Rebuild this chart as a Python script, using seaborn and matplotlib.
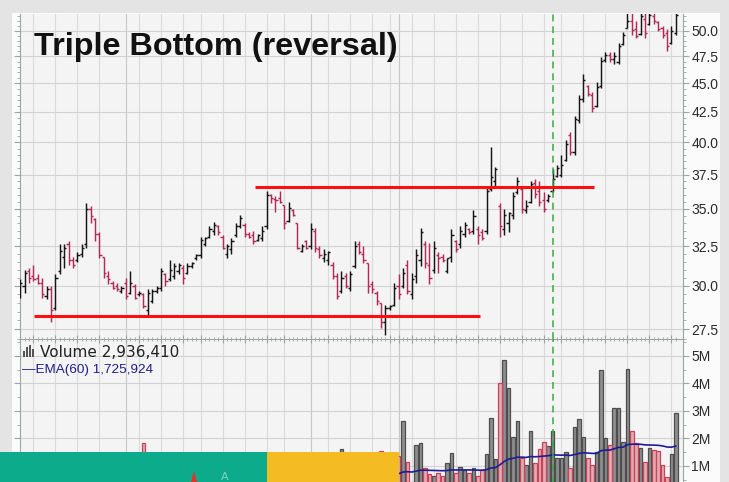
import numpy as np
import pandas as pd
import matplotlib
matplotlib.use("Agg")
import matplotlib.pyplot as plt
from matplotlib.patches import Rectangle, Polygon
from matplotlib.colors import to_rgba
from matplotlib.ticker import FixedLocator, FuncFormatter, NullFormatter
import seaborn as sns

# ---- daily OHLC prices ----
opens = [29.6, 30.0, 30.9, 30.6, 30.5, 30.2, 29.4, 29.8, 28.7, 30.9,
         31.8, 32.6, 31.6, 31.6, 32.0, 32.6, 35.0, 34.3, 33.3, 31.8,
         30.6, 30.2, 30.0, 29.7, 30.2, 29.6, 30.0, 29.5, 29.5, 28.6,
         29.1, 29.7, 29.9, 30.7, 30.4, 30.6, 30.9, 31.1, 30.8, 31.2,
         31.7, 31.9, 32.6, 33.1, 33.5, 33.8, 33.1, 32.0, 32.3, 33.2,
         33.8, 33.9, 33.3, 33.2, 32.9, 33.0, 33.8, 36.0, 35.7, 35.8,
         35.3, 34.2, 34.9, 34.0, 32.2, 32.8, 32.5, 33.5, 32.3, 31.7,
         31.6, 31.3, 30.6, 29.7, 30.6, 29.9, 31.2, 32.6, 32.0, 31.4,
         30.1, 29.6, 29.0, 27.9, 28.7, 28.9, 30.0, 30.0, 31.3, 29.5,
         30.6, 31.6, 32.6, 31.3, 31.0, 31.9, 31.8, 30.9, 31.8, 32.8,
         32.6, 33.3, 33.6, 33.5, 33.6, 33.4, 33.5, 36.4, 37.0, 35.2,
         33.6, 34.0, 34.6, 36.2, 36.4, 34.9, 35.5, 36.9, 36.3, 35.6,
         35.6, 36.3, 37.4, 37.5, 38.6, 40.6, 39.2, 41.8, 43.6, 44.8,
         44.0, 43.0, 44.8, 47.2, 47.6, 47.3, 47.0, 48.7, 50.3, 51.0,
         50.2, 49.7, 51.2, 50.7, 51.5, 50.9, 50.3, 49.8, 48.8, 49.8]
highs = [30.4, 31.0, 31.1, 31.3, 30.7, 30.5, 30.0, 30.0, 30.7, 32.6,
         32.6, 32.8, 31.8, 32.1, 32.6, 35.4, 35.2, 34.4, 33.4, 31.8,
         30.9, 30.3, 30.2, 30.0, 30.5, 30.9, 30.1, 29.7, 29.6, 29.8,
         29.8, 30.0, 31.1, 30.8, 31.6, 31.4, 31.4, 31.3, 31.4, 31.5,
         32.0, 33.1, 33.1, 33.8, 34.1, 33.9, 33.2, 32.6, 33.0, 34.0,
         34.6, 34.0, 33.4, 33.5, 33.3, 33.8, 36.3, 36.1, 35.9, 36.3,
         35.3, 35.5, 35.0, 34.0, 32.6, 32.9, 34.0, 33.7, 32.5, 32.3,
         32.2, 31.5, 30.8, 30.9, 30.8, 30.9, 32.8, 32.8, 32.5, 31.4,
         30.3, 29.7, 29.0, 28.9, 28.9, 30.2, 30.7, 31.1, 31.6, 30.8,
         32.3, 33.7, 32.8, 32.7, 32.8, 32.1, 32.0, 31.7, 33.6, 32.9,
         33.8, 34.1, 33.7, 34.9, 33.8, 33.6, 36.5, 39.6, 38.1, 35.4,
         35.0, 34.8, 36.2, 37.3, 36.6, 35.6, 37.0, 37.2, 37.0, 36.2,
         36.1, 37.9, 38.2, 39.0, 40.2, 40.8, 42.2, 44.0, 45.9, 44.9,
         44.2, 45.1, 47.4, 47.9, 47.9, 47.9, 48.8, 49.9, 52.5, 52.0,
         51.0, 52.2, 51.8, 52.3, 52.0, 51.0, 50.5, 50.2, 50.5, 52.5]
lows = [29.3, 29.6, 30.2, 30.3, 30.1, 29.3, 29.2, 27.9, 28.6, 30.7,
        31.1, 31.3, 31.1, 31.5, 31.8, 32.4, 34.0, 32.8, 31.7, 30.5,
        30.1, 29.8, 29.7, 29.6, 29.2, 29.5, 29.2, 29.4, 28.7, 28.3,
        29.0, 29.6, 29.7, 30.0, 30.3, 30.4, 30.7, 30.1, 30.7, 31.1,
        31.6, 31.7, 32.5, 33.0, 33.2, 33.2, 32.3, 31.7, 32.0, 33.1,
        33.7, 33.1, 33.0, 32.6, 32.8, 32.8, 33.6, 35.4, 34.8, 35.4,
        33.6, 34.1, 34.5, 32.3, 32.1, 32.3, 32.3, 32.1, 31.7, 31.5,
        31.3, 30.4, 29.2, 29.6, 29.9, 29.7, 31.1, 32.0, 31.4, 29.6,
        29.6, 28.9, 27.6, 27.2, 28.6, 28.8, 29.2, 29.9, 29.5, 29.2,
        30.2, 31.2, 31.1, 30.1, 30.8, 30.8, 31.5, 30.8, 31.5, 32.1,
        32.4, 33.1, 33.3, 33.3, 32.6, 32.9, 33.3, 36.3, 36.6, 33.1,
        33.2, 33.4, 34.3, 36.1, 34.7, 34.7, 35.4, 35.8, 35.2, 34.8,
        35.5, 36.2, 37.3, 37.3, 38.5, 39.0, 39.0, 41.6, 43.4, 43.9,
        42.5, 42.9, 44.6, 47.0, 47.0, 46.8, 46.8, 48.6, 50.3, 49.6,
        49.3, 49.6, 49.3, 50.6, 50.7, 50.0, 49.3, 48.0, 48.7, 49.6]
closes = [30.2, 30.8, 30.5, 30.4, 30.2, 29.5, 29.8, 28.6, 30.5, 32.2,
          32.4, 31.6, 31.3, 31.9, 32.4, 35.0, 34.5, 33.3, 31.9, 30.8,
          30.4, 29.9, 29.8, 29.9, 29.4, 30.2, 29.3, 29.6, 28.8, 29.6,
          29.7, 29.9, 30.9, 30.3, 31.0, 31.2, 31.3, 30.5, 31.2, 31.4,
          31.9, 32.9, 33.0, 33.6, 33.9, 33.4, 32.4, 32.5, 32.8, 33.8,
          34.4, 33.3, 33.1, 32.8, 33.2, 33.5, 36.0, 35.8, 35.6, 35.5,
          34.0, 35.1, 34.6, 32.4, 32.5, 32.4, 33.6, 32.4, 31.9, 32.0,
          32.1, 30.6, 29.4, 30.5, 30.0, 30.7, 32.5, 32.1, 31.6, 30.0,
          29.8, 29.1, 27.9, 28.7, 28.85, 29.9, 29.5, 30.8, 29.7, 30.4,
          31.9, 33.4, 31.4, 30.5, 32.4, 31.7, 31.6, 31.7, 33.2, 32.3,
          33.5, 33.9, 33.4, 34.5, 33.2, 33.0, 36.3, 37.3, 37.9, 33.8,
          34.6, 34.7, 35.9, 37.0, 35.0, 35.2, 36.8, 36.1, 35.5, 35.0,
          35.9, 37.2, 38.0, 38.2, 39.9, 39.2, 41.9, 43.6, 45.3, 44.1,
          42.8, 44.7, 47.1, 47.6, 47.3, 47.5, 48.5, 49.6, 51.0, 50.1,
          49.5, 51.5, 49.8, 51.6, 51.0, 50.2, 49.6, 48.5, 50.0, 51.6]
# ---- daily volume, millions of shares ----
volumes = [0.8, 1.0, 0.6, 0.5, 0.6, 0.9, 0.6, 1.2, 1.1, 1.3,
           0.8, 0.7, 0.5, 0.4, 0.6, 1.3, 1.0, 0.8, 0.9, 0.8,
           0.6, 0.5, 0.5, 0.4, 0.7, 0.6, 0.5, 0.5, 1.84, 1.1,
           0.7, 0.5, 0.8, 0.6, 0.7, 0.5, 0.4, 0.6, 0.5, 0.4,
           0.5, 0.8, 0.5, 0.6, 0.7, 0.5, 0.6, 0.4, 0.5, 0.6,
           0.5, 0.4, 0.5, 0.4, 0.6, 1.2, 0.8, 0.6, 0.5, 0.7,
           0.8, 0.5, 0.6, 0.4, 0.5, 0.7, 0.6, 0.5, 0.4, 0.6,
           0.5, 0.7, 0.8, 1.6, 0.6, 0.5, 0.8, 0.5, 0.6, 0.7,
           0.5, 0.8, 1.55, 1.1, 0.5, 0.7, 1.36, 2.64, 1.15, 0.4,
           1.76, 1.83, 0.92, 0.70, 0.64, 0.75, 0.64, 1.10, 1.48, 0.74,
           0.97, 0.85, 0.74, 0.92, 0.64, 0.85, 1.43, 2.73, 1.25, 4.0,
           4.85, 3.83, 2.05, 2.64, 1.28, 1.04, 2.27, 1.1, 1.6, 1.87,
           1.72, 2.27, 1.28, 1.28, 1.5, 0.93, 2.42, 2.7, 2.05, 1.28,
           1.04, 1.5, 4.48, 2.0, 1.76, 3.1, 3.1, 1.87, 4.52, 2.27,
           1.82, 1.67, 1.16, 1.67, 1.58, 1.55, 1.04, 0.6, 1.43, 2.93641]

price_ticks = [27.5, 30.0, 32.5, 35.0, 37.5, 40.0, 42.5, 45.0, 47.5, 50.0]
volume_ticks = [1, 2, 3, 4, 5]
week_lines = [3, 8, 13, 18, 27, 32, 37, 41, 46, 51, 56, 60, 70, 75, 80, 84,
              89, 94, 99, 104, 109, 114, 119, 123, 128, 133, 138, 143, 148]
month_lines = [24, 66, 86]
support_level = 28.26
support_span = (3.1, 104.5)
resistance_level = 36.56
resistance_span = (53.4, 130.4)
breakout_day = 121
ema_span = 60
ema_label_value = 1725924
title = "Triple Bottom (reversal)"

UP_BAR, DOWN_BAR = "#161616", "#b2295a"
VOL_UP, VOL_UP_EDGE = "#8e8e8e", "#4e4e4e"
VOL_DOWN, VOL_DOWN_EDGE = "#e8a3ac", "#cc4259"
AXIS_GRAY = "#9ba6a1"

plt.rcParams["font.family"] = ["Liberation Sans", "DejaVu Sans"]

df = pd.DataFrame({"day": np.arange(len(closes)), "open": opens, "high": highs,
                   "low": lows, "close": closes, "volume": volumes})
prev_close = df["close"].shift(1)
df["direction"] = np.where(prev_close.isna() | (df["close"] >= prev_close), "up", "down")
df["ema"] = df["volume"].ewm(span=ema_span, adjust=False).mean()

W, H = 729, 482
fig = plt.figure(figsize=(W / 100, H / 100), dpi=100)
fig.patch.set_facecolor("#e4e4e4")


def fx(x):
    return x / W


def fy(y):
    return 1 - y / H


def frame(left, top, right, bottom):
    return [fx(left), fy(bottom), (right - left) / W, (bottom - top) / H]


# light chart card behind both panels
fig.add_artist(Rectangle((fx(12), 0), fx(720) - fx(12), fy(13), transform=fig.transFigure,
                         facecolor="#fbfbfb", edgecolor="none", zorder=-5))

ax = fig.add_axes(frame(20, 13.5, 683, 339))
axv = fig.add_axes(frame(20, 339, 683, 493.5))
x_limits = (-0.045, 150.64)

for a in (ax, axv):
    a.set_facecolor("#f4f4f4")
    a.set_xlim(*x_limits)
    for d in week_lines:
        a.axvline(d, color="#dadada", lw=0.8, zorder=0.5)
    for d in month_lines:
        a.axvline(d, color="#c6c6c6", lw=0.8, zorder=0.5)
    for side in ("left", "right"):
        a.spines[side].set_color(AXIS_GRAY)
        a.spines[side].set_linewidth(0.8)
    a.spines["bottom"].set_visible(False)
    a.axvline(breakout_day, color="#34ac42", lw=1.1, dashes=(4.5, 3.2), zorder=6)

# ---- price panel ----
ax.spines["top"].set_visible(False)
ax.set_yscale("log")
ax.set_ylim(26.98, 51.76)
for p in price_ticks:
    ax.axhline(p, color="#d2d2d2", lw=0.8, zorder=0.5)

for direction, color in (("up", UP_BAR), ("down", DOWN_BAR)):
    sub = df[df["direction"] == direction]
    ax.vlines(sub["day"], sub["low"], sub["high"], color=color, lw=1.05, zorder=3)
    ax.hlines(sub["open"], sub["day"] - 0.48, sub["day"], color=color, lw=1.05, zorder=3)
    ax.hlines(sub["close"], sub["day"], sub["day"] + 0.48, color=color, lw=1.05, zorder=3)

ax.hlines(support_level, *support_span, color="#ff1010", lw=2.2, zorder=5)
ax.hlines(resistance_level, *resistance_span, color="#ff1010", lw=2.2, zorder=5)

ax.yaxis.set_major_locator(FixedLocator(price_ticks))
ax.yaxis.set_major_formatter(FuncFormatter(lambda v, _: f"{v:.1f}"))
ax.yaxis.set_minor_locator(FixedLocator(np.arange(27.0, 52.5, 0.5)))
ax.yaxis.set_minor_formatter(NullFormatter())
ax.tick_params(axis="y", which="both", left=True, right=True, labelleft=False,
               labelright=True, direction="out", color=AXIS_GRAY, labelcolor="#2a2a2a",
               labelsize=10, pad=2)
ax.tick_params(axis="y", which="major", length=4, width=0.8)
ax.tick_params(axis="y", which="minor", length=2, width=0.6)
ax.tick_params(axis="x", which="both", bottom=False, top=False, labelbottom=False)

# ---- volume panel ----
axv.spines["top"].set_color(AXIS_GRAY)
axv.spines["top"].set_linewidth(0.8)
for v in volume_ticks:
    axv.axhline(v, color="#d2d2d2", lw=0.8, zorder=0.5)

sns.barplot(data=df, x="day", y="volume", hue="direction", hue_order=["up", "down"],
            palette={"up": VOL_UP, "down": VOL_DOWN}, native_scale=True, dodge=False,
            errorbar=None, width=0.78, legend=False, linewidth=0.9, ax=axv, zorder=2)
up_rgba = to_rgba(VOL_UP)
for patch in axv.patches:
    same = np.allclose(patch.get_facecolor(), up_rgba, atol=0.01)
    patch.set_edgecolor(VOL_UP_EDGE if same else VOL_DOWN_EDGE)

sns.lineplot(data=df, x="day", y="ema", color="#1c1c96", linewidth=1.2, ax=axv,
             legend=False, zorder=4)

axv.set_xlim(*x_limits)
axv.set_ylim(0, (493.5 - 339) / 27.5)
axv.set_xlabel("")
axv.set_ylabel("")
axv.yaxis.set_major_locator(FixedLocator(volume_ticks))
axv.yaxis.set_major_formatter(FuncFormatter(lambda v, _: f"{int(v)}M"))
axv.yaxis.set_minor_locator(FixedLocator(np.arange(0.5, 5.6, 0.5)))
axv.yaxis.set_minor_formatter(NullFormatter())
axv.tick_params(axis="y", which="both", left=True, right=True, labelleft=False,
                labelright=True, direction="out", color=AXIS_GRAY, labelcolor="#2a2a2a",
                labelsize=10, pad=2)
axv.tick_params(axis="y", which="major", length=4, width=0.8)
axv.tick_params(axis="y", which="minor", length=2, width=0.6)
axv.xaxis.set_ticks_position("top")
axv.xaxis.set_major_locator(FixedLocator(week_lines + month_lines))
axv.xaxis.set_minor_locator(FixedLocator(df["day"].tolist()))
axv.tick_params(axis="x", which="both", top=True, bottom=False, labeltop=False,
                labelbottom=False, direction="inout", color=AXIS_GRAY)
axv.tick_params(axis="x", which="major", length=6, width=0.8)
axv.tick_params(axis="x", which="minor", length=3, width=0.6)

# ---- text ----
fig.text(fx(34), fy(55), title, fontsize=23.3, fontweight="bold", color="#111111",
         family=["Liberation Sans", "DejaVu Sans"], va="baseline", ha="left")

for i, h in enumerate([6, 10, 12, 8]):
    fig.add_artist(Rectangle((fx(23 + i * 3), fy(356.5)), 2 / W, h / H,
                             transform=fig.transFigure, facecolor="#555555",
                             edgecolor="none", zorder=8))
fig.text(fx(40.5), fy(356.7), f"Volume {round(volumes[-1] * 1e6):,}",
         family=["DejaVu Sans"], fontsize=11, color="#222222", va="baseline")
fig.text(fx(22.5), fy(373.3), f"\u2014EMA({ema_span}) {ema_label_value:,}",
         family=["Liberation Sans", "DejaVu Sans"], fontsize=9.7, color="#1e1e90",
         va="baseline")

# ---- banner strip along the bottom ----
fig.add_artist(Rectangle((0, 0), fx(267), 30 / H, transform=fig.transFigure,
                         facecolor="#0bab8b", edgecolor="none", zorder=20))
fig.add_artist(Rectangle((fx(267), 0), fx(399) - fx(267), 30 / H, transform=fig.transFigure,
                         facecolor="#f4bc22", edgecolor="none", zorder=20))
fig.add_artist(Polygon([(fx(191), fy(482)), (fx(194), fy(471)), (fx(197), fy(482))],
                       closed=True, transform=fig.transFigure, facecolor="#e8302a",
                       edgecolor="none", zorder=21))
fig.text(fx(221), fy(480.5), "A", family=["DejaVu Sans"], fontsize=8, color="#7fd3bd",
         va="baseline", zorder=21)

fig.savefig("out.png", dpi=100, facecolor=fig.get_facecolor())
